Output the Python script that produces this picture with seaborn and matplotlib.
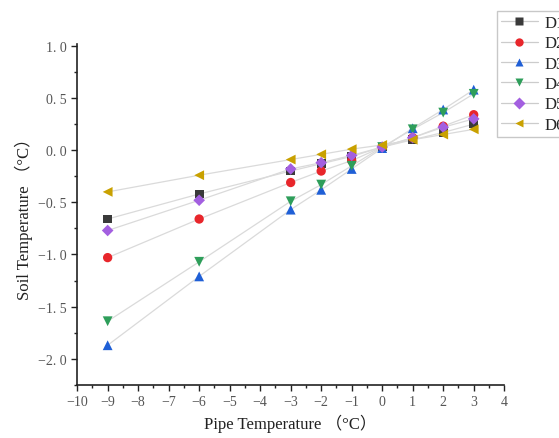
import pandas as pd
import matplotlib
matplotlib.use("Agg")
import matplotlib.pyplot as plt
from matplotlib.lines import Line2D
from matplotlib.ticker import MultipleLocator, FuncFormatter
import seaborn as sns

pipe_temp = [-9, -6, -3, -2, -1, 0, 1, 2, 3]
d1 = [-0.66, -0.42, -0.20, -0.13, -0.06, 0.03, 0.10, 0.17, 0.25]
d2 = [-1.03, -0.66, -0.31, -0.20, -0.10, 0.03, 0.12, 0.23, 0.34]
d3 = [-1.87, -1.21, -0.57, -0.38, -0.18, 0.02, 0.21, 0.39, 0.58]
d4 = [-1.64, -1.07, -0.49, -0.33, -0.15, 0.03, 0.20, 0.36, 0.54]
d5 = [-0.77, -0.48, -0.18, -0.12, -0.05, 0.03, 0.12, 0.22, 0.30]
d6 = [-0.40, -0.24, -0.09, -0.04, 0.01, 0.05, 0.10, 0.15, 0.20]
series_names = ["D1", "D2", "D3", "D4", "D5", "D6"]

colors = ["#3a3a3a", "#e8262b", "#1f5fd6", "#2e9e5a", "#a35fe0", "#c9a100"]
markers = ["s", "o", "^", "v", "D", "<"]
sizes = [40, 45, 50, 50, 35, 50]

df = pd.concat([pd.DataFrame({"pipe": pipe_temp, "soil": v, "series": n})
                for n, v in zip(series_names, [d1, d2, d3, d4, d5, d6])])

sns.set_style("ticks")
plt.rcParams["font.family"] = ["Liberation Serif", "Noto Sans CJK SC", "DejaVu Sans"]
plt.rcParams["axes.unicode_minus"] = True

fig = plt.figure(figsize=(5.59, 4.39), dpi=100)
ax = fig.add_axes([0.138, 0.121, 0.764, 0.777])

# thin grey connecting lines, coloured markers on top
sns.lineplot(data=df, x="pipe", y="soil", units="series", estimator=None,
             color="#dadada", lw=0.9, ax=ax, zorder=1)
for name, c, m, s in zip(series_names, colors, markers, sizes):
    sub = df[df.series == name]
    sns.scatterplot(data=sub, x="pipe", y="soil", color=c, marker=m, s=s,
                    edgecolor="none", ax=ax, zorder=3)

ax.set_xlim(-10, 4)
ax.set_ylim(-2.25, 1.02)
ax.xaxis.set_major_locator(MultipleLocator(1))
ax.xaxis.set_minor_locator(MultipleLocator(0.5))
ax.yaxis.set_major_locator(MultipleLocator(0.5))
ax.yaxis.set_minor_locator(MultipleLocator(0.25))
ax.yaxis.set_major_formatter(FuncFormatter(
    lambda v, p: ("%.1f" % v).replace("-", "\u2212").replace(".", ". ")))
ax.xaxis.set_major_formatter(FuncFormatter(
    lambda v, p: ("%d" % round(v)).replace("-", "\u2212")))
ax.tick_params(which="major", length=4, width=1, color="#222222",
               labelsize=10, labelcolor="#555555")
ax.tick_params(which="minor", length=2.5, width=1, color="#222222")
for sp in ["left", "bottom"]:
    ax.spines[sp].set_linewidth(1.2)
    ax.spines[sp].set_color("#222222")
sns.despine(ax=ax)

ax.set_xlabel("Pipe Temperature （°C）", fontsize=12, color="#222222", labelpad=4)
ax.set_ylabel("Soil Temperature （°C）", fontsize=12, color="#222222", labelpad=4)

handles = [Line2D([], [], color="#cccccc", lw=0.9, marker=m, markerfacecolor=c,
                  markeredgecolor="none", markersize=6)
           for c, m in zip(colors, markers)]
fig.legend(handles, series_names, loc="upper left", bbox_to_anchor=(0.889, 0.973),
           borderaxespad=0, frameon=True, fancybox=False, edgecolor="#bbbbbb",
           fontsize=12, handlelength=2.2, labelspacing=0.26, borderpad=0.25,
           handletextpad=0.4)

fig.savefig("out.png", dpi=100)
